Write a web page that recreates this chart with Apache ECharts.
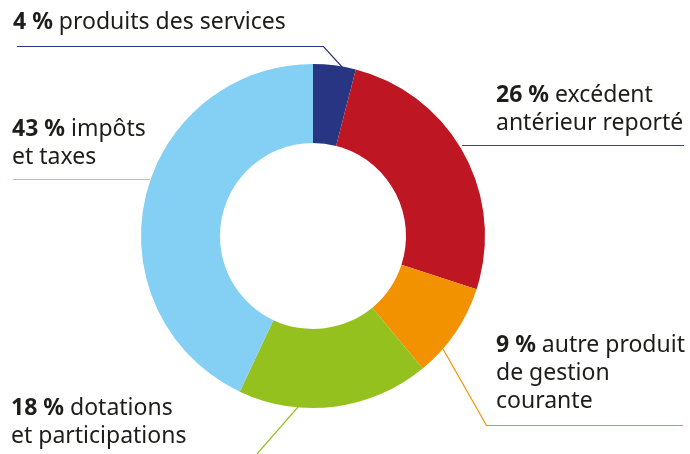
<!DOCTYPE html>
<html>
<head>
<meta charset="utf-8">
<script src="https://cdn.jsdelivr.net/npm/echarts@6/dist/echarts.min.js"></script>
<style>
    html, body { margin: 0; padding: 0; background: #fff; }
    #chart { width: 690px; height: 454px; }
</style>
</head>
<body>
<div id="chart"></div>
<script>
// données
var categories = ['produits des services', 'excédent\nantérieur reporté', 'autre produit\nde gestion\ncourante', 'dotations\net participations', 'impôts\net taxes'];
var values = [4, 26, 9, 18, 43];
var colors = ['#283583', '#be1622', '#f39200', '#95c11f', '#84cff4'];

// position des étiquettes et des traits de rappel
var labelPos = [
    { x: 13, y: 8, line: [[343, 68], [323.5, 46.5], [17, 46.5]] },
    { x: 496, y: 81, line: [[462, 145.5], [462, 145.5], [684, 145.5]] },
    { x: 496, y: 331, line: [[443, 349], [486.5, 425.5], [683, 425.5]] },
    { x: 11, y: 394, line: [[298, 407], [257, 454], [257, 454]] },
    { x: 12, y: 115, line: [[150, 179.5], [150, 179.5], [13, 179.5]] }
];

var chart = echarts.init(document.getElementById('chart'));
var pieData = [];
for (var i = 0; i < values.length; i++) {
    pieData.push({
        name: categories[i],
        value: values[i],
        itemStyle: { color: colors[i] },
        labelLine: { lineStyle: { color: colors[i], width: 1.2 } }
    });
}

var option = {
    animation: false,
    series: [{
        type: 'pie',
        center: [313, 236],
        radius: [93, 172],
        startAngle: 90,
        clockwise: true,
        avoidLabelOverlap: false,
        itemStyle: { borderWidth: 0 },
        label: {
            show: true,
            position: 'outside',
            color: '#1d1d1b',
            fontFamily: 'Noto Sans',
            fontSize: 23,
            lineHeight: 28,
            formatter: function(p) {
                return '{b|' + p.value + ' %} ' + p.name;
            },
            rich: {
                b: { fontWeight: 'bold', fontSize: 23, lineHeight: 28, fontFamily: 'Noto Sans', color: '#1d1d1b' }
            }
        },
        labelLine: { show: true, smooth: false },
        labelLayout: function(params) {
            var p = labelPos[params.dataIndex];
            return {
                x: p.x,
                y: p.y,
                align: 'left',
                verticalAlign: 'top',
                labelLinePoints: p.line
            };
        },
        data: pieData
    }]
};
chart.setOption(option);
</script>
</body>
</html>
